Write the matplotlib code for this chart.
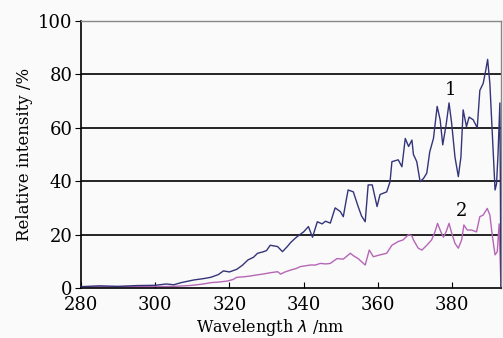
import numpy as np
import matplotlib
matplotlib.use("Agg")
import matplotlib.pyplot as plt

# curve 1 (navy)
wl1 = [280, 285, 290, 295, 300, 303, 305, 307, 310.4, 313, 315, 317, 318.4, 320,
       322, 323.5, 325, 326.5, 327.6, 329, 330, 331, 333, 334.3, 335.6, 336.5,
       337.8, 339, 340, 341.3, 342.4, 343.7, 345, 345.9, 347.2, 348.5, 349.9,
       350.7, 351.5, 352, 353.4, 354.7, 355.6, 356.6, 357.4, 358.5, 359.8, 360.6,
       361.5, 362.4, 363.3, 363.8, 365.5, 366.5, 367.4, 368.3, 369.2, 369.6,
       370.5, 371.4, 372.3, 373.2, 374, 375, 376, 376.8, 377.5, 378.4, 379.2,
       379.9, 380.8, 381.7, 382.4, 383, 383.9, 384.6, 385.7, 386.8, 387.5, 388.4,
       389.1, 389.6, 390.2, 390.9, 391.6, 392, 392.4, 392.9, 393.2]
int1 = [0.5, 0.8, 0.6, 0.9, 1.0, 1.5, 1.2, 2, 3, 3.5, 4, 5, 6.4, 6,
        7, 8.5, 10.5, 11.5, 13, 13.5, 14, 16, 15.5, 13.6, 15.5, 17,
        18.7, 20, 21, 23, 19, 24.8, 24, 25, 24.3, 30, 28.6,
        26.7, 33, 36.7, 36, 30.5, 27, 24.8, 38.6, 38.6, 30.5, 35,
        35.5, 36, 39.8, 47.3, 48, 45.4, 56, 53, 55.4, 50,
        47.3, 39.8, 41, 43, 51, 56, 68, 63, 53.6, 61, 69.3,
        61.7, 49, 41.7, 49, 66.7, 60.4, 64, 63, 60, 74, 76.6,
        81.6, 85.6, 76.6, 56.7, 36.7, 39, 50, 69.3, 0]

# curve 2 (magenta)
wl2 = [280, 290, 300, 305, 308, 310, 313, 315, 317, 319.5, 321, 322, 324, 325.7,
       327, 329, 331, 333, 333.8, 335, 336.5, 338, 339.1, 340.5, 341.8, 343.2,
       344.5, 346, 347.2, 349, 350.7, 352.6, 353.5, 354.7, 356.6, 357.7, 358.8,
       360.6, 362.4, 363.8, 365.5, 366.8, 368.3, 369.2, 369.6, 370.9, 371.9,
       373.2, 374.5, 375.4, 376.1, 377, 377.7, 378.4, 379.2, 379.9, 380.8, 381.7,
       382.6, 383.2, 384.1, 385.3, 386.6, 387.5, 388.4, 389.5, 390.2, 390.9,
       391.6, 392.2, 392.7, 393.2]
int2 = [0.4, 0.5, 0.5, 0.6, 0.8, 1, 1.5, 2, 2.2, 2.6, 3.2, 4, 4.2, 4.5,
        4.8, 5.2, 5.7, 6.1, 5.2, 6, 6.7, 7.3, 8, 8.3, 8.6, 8.6,
        9.2, 9, 9.2, 11, 10.8, 13, 12, 11, 8.6, 14.2, 11.7,
        12.4, 13, 16, 17.4, 18, 20, 19.5, 18, 14.9, 14.2,
        16, 18, 21, 24.2, 21, 19, 21, 24.2, 20.6, 16.7, 14.9,
        18, 23.6, 21.7, 21.7, 21, 26.7, 27.3, 29.8, 27.3, 19.2,
        12.4, 13.6, 24, 0]

xticks = [280, 300, 320, 340, 360, 380]
yticks = [0, 20, 40, 60, 80, 100]

plt.rcParams['font.family'] = ['DejaVu Serif']

bg = '#fafafa'
fig = plt.figure(figsize=(5.03, 3.38), dpi=100, facecolor=bg)
ax = fig.add_axes([0.161, 0.148, 0.835, 0.79], facecolor=bg)

for y in [20, 40, 60, 80]:
    ax.axhline(y, color='black', lw=1.2, zorder=1)

ax.plot(wl2, int2, color='#b666b6', lw=1.0, zorder=2)
ax.plot(wl1, int1, color='#34347a', lw=1.0, zorder=3)

ax.text(379.5, 74, '1', fontsize=13, ha='center', va='center')
ax.text(382.6, 29, '2', fontsize=13, ha='center', va='center')

ax.set_xlim(280, 393.2)
ax.set_ylim(0, 100)
ax.set_xticks(xticks)
ax.set_yticks(yticks)
ax.tick_params(axis='x', direction='in', length=4, labelsize=13, pad=6)
ax.tick_params(axis='y', direction='out', length=4, labelsize=13, pad=2)

for s in ['left', 'bottom']:
    ax.spines[s].set_color('black')
    ax.spines[s].set_linewidth(1.2)
for s in ['top', 'right']:
    ax.spines[s].set_color('#888888')
    ax.spines[s].set_linewidth(1.0)

ax.set_xlabel('Wavelength $\\lambda$ /nm', fontsize=11.5, va='center')
ax.xaxis.set_label_coords(0.45, -0.148)
ax.set_ylabel('Relative intensity /%', fontsize=12, labelpad=4)

fig.savefig('out.png', dpi=100, facecolor=bg)
